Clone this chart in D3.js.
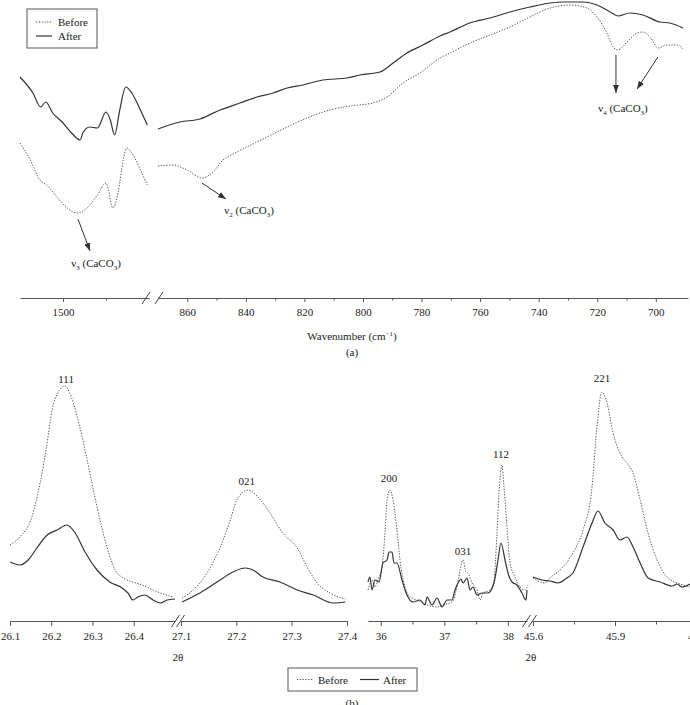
<!DOCTYPE html>
<html lang="en">
<head>
<meta charset="UTF-8" />
<title>FTIR and XRD, before and after</title>
<style>
  body { margin: 0; background: #fff; }
  svg { display: block; font-family: "Liberation Serif", "Times New Roman", serif; }
  .axis path, .axis line { stroke: #555; }
  .axis text { font-size: 11px; fill: #222; font-family: "Liberation Serif", serif; }
  .before { fill: none; stroke: #555; stroke-width: 1; stroke-dasharray: 1.3 1.5; }
  .after { fill: none; stroke: #333; stroke-width: 1.2; }
  .lbl { font-size: 11px; fill: #222; }
  .brk { stroke: #444; stroke-width: 1; }
</style>
</head>
<body>
<div id="chart"></div>
<script src="https://cdnjs.cloudflare.com/ajax/libs/d3/7.8.5/d3.min.js"></script>
<script>
// ---- (a) FTIR, [wavenumber, transmittance a.u.] ----
const irLeftBefore = [[1550,157],[1538,140],[1527,120],[1519,115],[1507,103],[1495,92],[1484,87],[1472,92],[1460,105],[1450,117],[1448,113],[1442,92],[1436,107],[1430,140],[1426,152],[1420,147],[1410,130],[1402,115]];
const irLeftAfter = [[1550,223],[1535,207],[1526,193],[1520,198],[1512,187],[1501,178],[1490,167],[1480,160],[1477,167],[1469,173],[1460,172],[1450,188],[1445,180],[1440,165],[1434,190],[1427,213],[1420,207],[1410,190],[1402,175]];
const irRightBefore = [[870,134],[864.9,135],[860.1,130],[855,122],[851.6,127],[847.8,140],[844.4,146],[839.6,153],[832.8,163],[825.9,173],[819.1,182],[811.3,190],[804.4,194],[796.6,197],[791.8,203],[786.3,217],[780.5,227],[773.7,242],[770.3,247],[763.5,257],[756.6,265],[749.8,273],[743,283],[736.1,292],[729.3,295],[723.5,292],[720.1,283],[716.7,267],[714.6,253],[712.9,250],[709.8,258],[706.4,267],[704.4,268],[702,263],[699.2,252],[696.2,255],[692.7,255],[690.7,251]];
const irRightAfter = [[870,171],[862.5,178],[855.7,181],[848.8,190],[842,197],[836.2,203],[830.7,207],[825.9,212],[820.5,215],[813.7,220],[805.5,222],[801,225],[794.2,228],[789.7,237],[785,247],[779.5,255],[773.7,264],[770.3,268],[763.5,277],[756.6,282],[749.8,288],[743,293],[736.1,297],[731.7,298],[724.9,298],[720.1,295],[715.6,288],[712.9,284],[708.8,287],[704.4,285],[698.6,278],[695.2,277],[690.7,272]];
const irLeftTicks = [1500, 1450];
const irRightTicks = [860, 850, 840, 830, 820, 810, 800, 790, 780, 770, 760, 750, 740, 730, 720, 710, 700];

// ---- (b) XRD, [2theta, intensity a.u.] ----
const xrd111Before = [[26.100,75],[26.124,83],[26.153,103],[26.173,137],[26.190,177],[26.202,210],[26.216,227],[26.233,234],[26.245,227],[26.265,200],[26.287,160],[26.311,113],[26.335,73],[26.355,50],[26.374,42],[26.398,38],[26.420,35],[26.447,30],[26.471,26],[26.495,23]];
const xrd111After = [[26.100,58],[26.124,55],[26.144,60],[26.165,72],[26.190,85],[26.214,90],[26.238,95],[26.258,87],[26.282,68],[26.311,50],[26.342,38],[26.372,32],[26.386,27],[26.398,20],[26.410,23],[26.427,25],[26.447,20],[26.464,17],[26.481,20],[26.500,21]];
const xrd021Before = [[27.102,22],[27.122,30],[27.147,47],[27.171,73],[27.189,100],[27.201,120],[27.221,130],[27.239,123],[27.261,107],[27.284,87],[27.310,72],[27.328,53],[27.346,37],[27.369,27],[27.397,21]];
const xrd021After = [[27.102,18],[27.134,27],[27.165,38],[27.194,48],[27.216,52],[27.230,50],[27.248,43],[27.279,38],[27.310,30],[27.339,25],[27.375,17],[27.397,18]];
const xrdMidBefore = [[35.800,30],[35.863,40],[35.910,33],[35.957,40],[36.020,53],[36.067,87],[36.099,120],[36.146,130],[36.193,120],[36.256,90],[36.303,60],[36.382,33],[36.460,23],[36.570,20],[36.728,15],[36.885,13],[36.979,15],[37.121,18],[37.199,33],[37.247,50],[37.294,60],[37.341,48],[37.372,47],[37.435,37],[37.514,30],[37.561,20],[37.608,27],[37.718,30],[37.781,40],[37.828,87],[37.860,127],[37.907,155],[37.938,133],[37.986,93],[38.033,57],[38.111,43],[38.190,33],[38.269,30],[38.316,35]];
const xrdMidAfter = [[35.800,38],[35.831,43],[35.863,30],[35.910,40],[35.973,38],[36.036,57],[36.099,60],[36.130,68],[36.177,68],[36.209,57],[36.256,57],[36.335,40],[36.413,25],[36.508,18],[36.618,20],[36.696,15],[36.728,23],[36.806,15],[36.885,22],[36.964,13],[37.042,20],[37.121,20],[37.168,30],[37.215,37],[37.262,41],[37.294,37],[37.357,42],[37.404,30],[37.451,33],[37.514,25],[37.592,27],[37.687,27],[37.781,37],[37.844,60],[37.891,77],[37.954,60],[38.001,47],[38.064,38],[38.143,35],[38.221,27],[38.284,20],[38.300,30]];
const xrd221Before = [[45.600,42],[45.626,38],[45.644,37],[45.662,42],[45.699,50],[45.746,67],[45.783,90],[45.816,133],[45.834,193],[45.852,228],[45.871,217],[45.893,187],[45.926,163],[45.944,157],[45.966,147],[45.992,120],[46.021,87],[46.054,60],[46.090,43],[46.127,37],[46.163,34],[46.174,33]];
const xrd221After = [[45.600,43],[45.633,40],[45.662,39],[45.691,37],[45.724,42],[45.746,47],[45.783,73],[45.816,97],[45.838,109],[45.863,97],[45.893,90],[45.918,80],[45.944,83],[45.966,73],[45.992,57],[46.021,42],[46.065,38],[46.109,34],[46.127,36],[46.145,33],[46.174,36]];
const ticksA = [26.1, 26.2, 26.3, 26.4];
const ticksB = [27.1, 27.2, 27.3, 27.4];
const ticksC = [36, 36.5, 37, 37.5, 38];
const ticksD = [45.6, 45.75, 45.9, 46.05, 46.2];

const peakLabels = [
  { text: "111", seg: "A", x: 26.236, y: 237 },
  { text: "021", seg: "B", x: 27.219, y: 135 },
  { text: "200", seg: "C", x: 36.13, y: 138 },
  { text: "031", seg: "C", x: 37.294, y: 65 },
  { text: "112", seg: "C", x: 37.891, y: 162 },
  { text: "221", seg: "D", x: 45.852, y: 238 }
];

const width = 690, height = 705;
const svg = d3.select("#chart").append("svg")
  .attr("width", width)
  .attr("height", height);

svg.append("defs").append("marker")
  .attr("id", "arrow")
  .attr("markerUnits", "userSpaceOnUse")
  .attr("markerWidth", 8).attr("markerHeight", 6)
  .attr("refX", 8).attr("refY", 3)
  .attr("orient", "auto")
  .append("path").attr("d", "M0,0 L8,3 L0,6 z").attr("fill", "#333");

// ---------- panel (a) ----------
const axisYa = 298;
const xL = d3.scaleLinear().domain([1550, 1400]).range([20, 149]);
const xR = d3.scaleLinear().domain([870, 689]).range([158, 688]);
const yA = d3.scaleLinear().domain([0, 300]).range([300, 0]);

function drawLine(x, y, data, cls) {
  svg.append("path")
    .datum(data)
    .attr("class", cls)
    .attr("d", d3.line().x(d => x(d[0])).y(d => y(d[1])).curve(d3.curveMonotoneX));
}

drawLine(xL, yA, irLeftBefore, "before");
drawLine(xL, yA, irLeftAfter, "after");
drawLine(xR, yA, irRightBefore, "before");
drawLine(xR, yA, irRightAfter, "after");

function drawAxis(x, ticks, isMajor, yPos, size, pad) {
  const g = svg.append("g")
    .attr("class", "axis")
    .attr("transform", `translate(0,${yPos})`)
    .call(d3.axisBottom(x).tickValues(ticks).tickSize(size).tickSizeOuter(0).tickPadding(pad)
      .tickFormat(d => isMajor(d) ? d3.format("")(d) : ""));
  g.selectAll(".tick").filter(d => !isMajor(d)).select("line").attr("y2", size - 1.5);
  return g;
}

drawAxis(xL, irLeftTicks, d => d === 1500, axisYa, 4, 6);
drawAxis(xR, irRightTicks, d => d % 20 === 0, axisYa, 4, 6);

function breakMarks(xa, xb, yPos) {
  [xa, xb].forEach(xc => {
    svg.append("line").attr("class", "brk")
      .attr("x1", xc - 4).attr("y1", yPos + 6)
      .attr("x2", xc + 4).attr("y2", yPos - 6);
  });
}
breakMarks(xL.range()[1] - 3, xR.range()[0] + 1, axisYa);

svg.append("text").attr("class", "lbl").attr("text-anchor", "middle")
  .attr("x", 352).attr("y", 340)
  .call(t => {
    t.append("tspan").text("Wavenumber (cm");
    t.append("tspan").attr("dy", -4).attr("font-size", 7).text("−1");
    t.append("tspan").attr("dy", 4).text(")");
  });
svg.append("text").attr("class", "lbl").attr("text-anchor", "middle")
  .attr("x", 352).attr("y", 356).text("(a)");

function nuLabel(x, y, sub) {
  const t = svg.append("text").attr("class", "lbl").attr("text-anchor", "middle")
    .attr("x", x).attr("y", y);
  t.append("tspan").text("ν");
  t.append("tspan").attr("dy", 3).attr("font-size", 7).text(sub);
  t.append("tspan").attr("dy", -3).text(" (CaCO");
  t.append("tspan").attr("dy", 3).attr("font-size", 7).text("3");
  t.append("tspan").attr("dy", -3).text(")");
}
function arrow(x1, y1, x2, y2) {
  svg.append("line")
    .attr("x1", x1).attr("y1", y1).attr("x2", x2).attr("y2", y2)
    .attr("stroke", "#333").attr("stroke-width", 1)
    .attr("marker-end", "url(#arrow)");
}

arrow(xL(1482.6), yA(81), xL(1468.6), yA(49));
nuLabel(xL(1461.6), yA(33), "3");
arrow(xR(855), yA(117), xR(846.8), yA(101));
nuLabel(xR(838.9), yA(86), "2");
arrow(xR(713.6), yA(245), xR(713.6), yA(207));
arrow(xR(699.3), yA(243), xR(706.4), yA(211));
nuLabel(xR(711.2), yA(188), "4");

// legend (a)
const legA = svg.append("g").attr("transform", "translate(27,9)");
legA.append("rect").attr("width", 70).attr("height", 39)
  .attr("fill", "#fff").attr("stroke", "#555");
legA.append("line").attr("class", "before").attr("x1", 9).attr("x2", 25).attr("y1", 13).attr("y2", 13);
legA.append("text").attr("class", "lbl").attr("x", 31).attr("y", 17).text("Before");
legA.append("line").attr("class", "after").attr("x1", 9).attr("x2", 25).attr("y1", 27).attr("y2", 27);
legA.append("text").attr("class", "lbl").attr("x", 31).attr("y", 31).text("After");

// ---------- panel (b) ----------
const axisYb = 621;
const xA = d3.scaleLinear().domain([26.1, 26.5]).range([10, 175]);
const xB = d3.scaleLinear().domain([27.1, 27.4]).range([181, 347]);
const xC = d3.scaleLinear().domain([35.8, 38.3]).range([368, 527]);
const xD = d3.scaleLinear().domain([45.6, 46.2]).range([533, 697]);
const yB = d3.scaleLinear().domain([0, 250]).range([620, 370]);
const segs = { A: xA, B: xB, C: xC, D: xD };

drawLine(xA, yB, xrd111Before, "before");
drawLine(xA, yB, xrd111After, "after");
drawLine(xB, yB, xrd021Before, "before");
drawLine(xB, yB, xrd021After, "after");
drawLine(xC, yB, xrdMidBefore, "before");
drawLine(xC, yB, xrdMidAfter, "after");
drawLine(xD, yB, xrd221Before, "before");
drawLine(xD, yB, xrd221After, "after");

drawAxis(xA, ticksA, () => true, axisYb, 5, 6);
drawAxis(xB, ticksB, () => true, axisYb, 5, 6);
drawAxis(xC, ticksC, d => Number.isInteger(d), axisYb, 5, 6);
drawAxis(xD, ticksD, d => [45.6, 45.9, 46.2].includes(d), axisYb, 5, 6);
breakMarks(xA.range()[1] + 0.5, xB.range()[0] - 0.5, axisYb);
breakMarks(xC.range()[1] - 0.5, xD.range()[0] - 0.5, axisYb);

peakLabels.forEach(p => {
  svg.append("text").attr("class", "lbl").attr("text-anchor", "middle")
    .attr("x", segs[p.seg](p.x)).attr("y", yB(p.y)).text(p.text);
});

svg.append("text").attr("class", "lbl").attr("text-anchor", "middle")
  .attr("x", 178).attr("y", 661).text("2θ");
svg.append("text").attr("class", "lbl").attr("text-anchor", "middle")
  .attr("x", 531).attr("y", 661).text("2θ");

// legend (b)
const legB = svg.append("g").attr("transform", "translate(288,668)");
legB.append("rect").attr("width", 129).attr("height", 23)
  .attr("fill", "#fff").attr("stroke", "#555");
legB.append("line").attr("class", "before").attr("x1", 9).attr("x2", 25).attr("y1", 11.5).attr("y2", 11.5);
legB.append("text").attr("class", "lbl").attr("x", 30).attr("y", 15.5).text("Before");
legB.append("line").attr("class", "after").attr("x1", 72).attr("x2", 91).attr("y1", 11.5).attr("y2", 11.5);
legB.append("text").attr("class", "lbl").attr("x", 95).attr("y", 15.5).text("After");

svg.append("text").attr("class", "lbl").attr("text-anchor", "middle")
  .attr("x", 352).attr("y", 707).text("(b)");
</script>
</body>
</html>
